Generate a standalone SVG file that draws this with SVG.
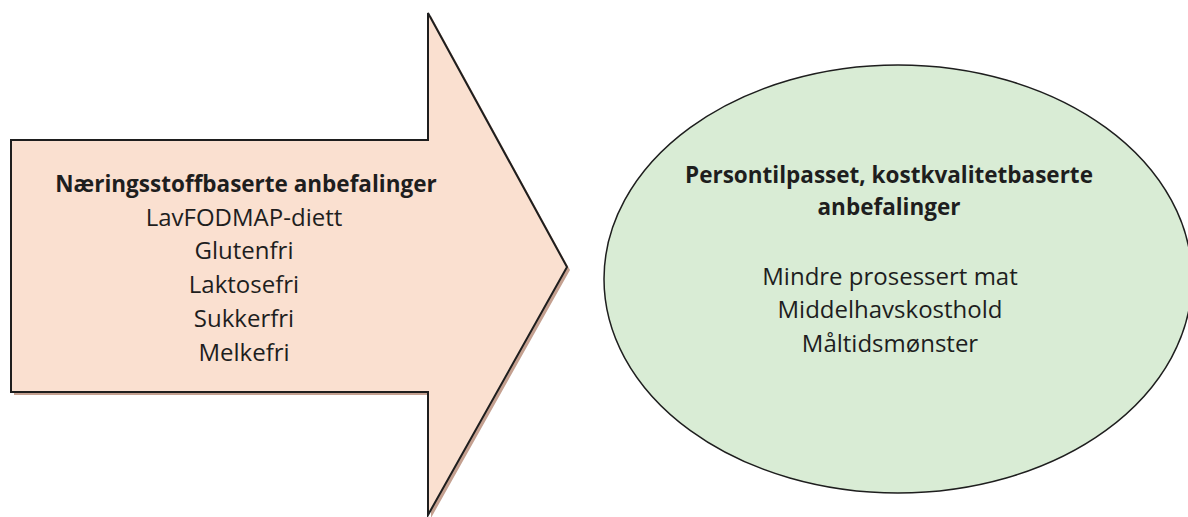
<svg xmlns="http://www.w3.org/2000/svg" width="1188" height="517" viewBox="0 0 1188 517">
<style>
.t{font-family:"Open Sans","Liberation Sans",sans-serif;font-size:24px;fill:#1e1e1e;text-anchor:middle}
.b{font-weight:bold;font-size:22.5px}
</style>
<rect width="1188" height="517" fill="#ffffff"/>
<g id="arrow">
<polygon points="11,140 428,140 428,13 567,267 428,515 428,392 11,392" transform="translate(3,3)" fill="#c4a090"/>
<polygon points="11,140 428,140 428,13 567,267 428,515 428,392 11,392" fill="#fae0d0" stroke="#1e1e1e" stroke-width="2" stroke-linejoin="miter"/>
<text class="t b" x="246" y="192">Næringsstoffbaserte anbefalinger</text>
<text class="t" x="244" y="226">LavFODMAP-diett</text>
<text class="t" x="244" y="259">Glutenfri</text>
<text class="t" x="244" y="293">Laktosefri</text>
<text class="t" x="244" y="327">Sukkerfri</text>
<text class="t" x="244" y="361">Melkefri</text>
</g>
<g id="ellipse">
<ellipse cx="898" cy="279" rx="294" ry="214" fill="#d9ecd5" stroke="#1e1e1e" stroke-width="1.5"/>
<text class="t b" x="889" y="183">Persontilpasset, kostkvalitetbaserte</text>
<text class="t b" x="889" y="215">anbefalinger</text>
<text class="t" x="890" y="285">Mindre prosessert mat</text>
<text class="t" x="890" y="318">Middelhavskosthold</text>
<text class="t" x="890" y="352">Måltidsmønster</text>
</g>
<g id="connectors"></g>
</svg>
